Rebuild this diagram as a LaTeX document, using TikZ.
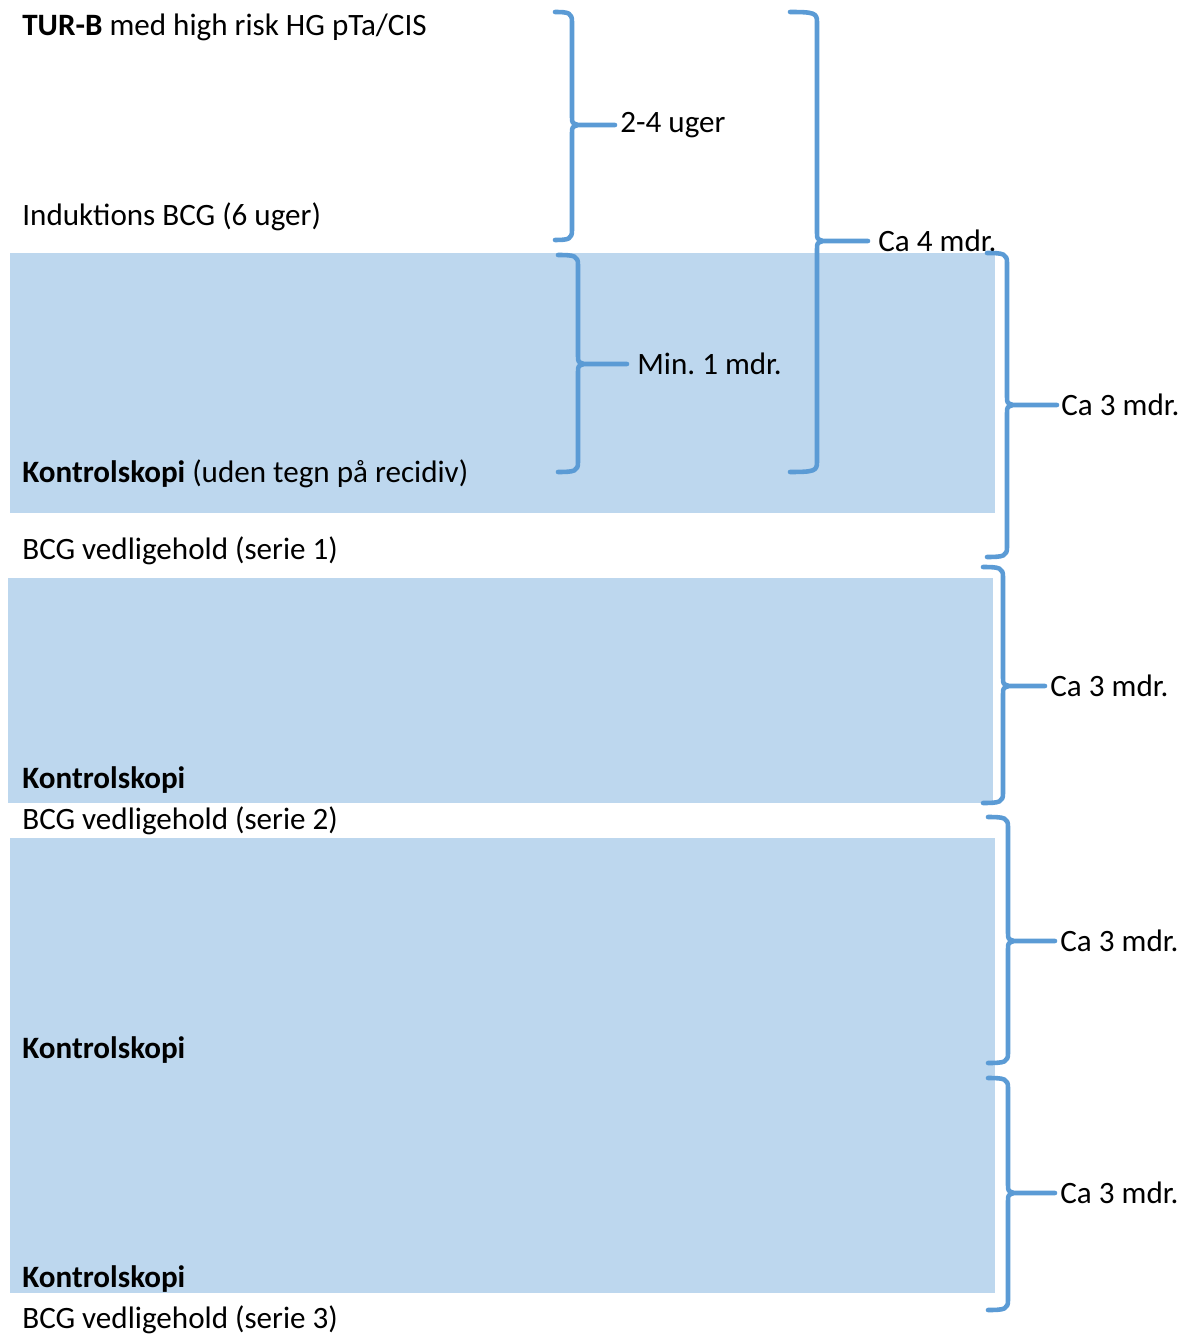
\documentclass[tikz,border=0pt]{standalone}
\usepackage{fontspec}
\setmainfont{Carlito}
\usetikzlibrary{positioning}
\definecolor{klammeblaa}{HTML}{5B9BD5}
\definecolor{feltblaa}{HTML}{BDD7EE}

\begin{document}
\frenchspacing
\begin{tikzpicture}[x = 0.02cm, y = -0.02cm, line join = round, line cap = round,
  tekst/.style = {anchor = base west, inner sep = 0pt,
    font = \fontsize{17.7}{20}\selectfont},
  etiket/.style = {anchor = west, inner sep = 0pt,
    font = \fontsize{17.7}{20}\selectfont},
  klamme/.style = {draw = klammeblaa, line width = 2.6pt}]
  \useasboundingbox (0, 0) rectangle (1193, 1337);

  % felter
  \fill[feltblaa] (10, 253) rectangle (995, 513);
  \fill[feltblaa] (8, 578) rectangle (993, 803);
  \fill[feltblaa] (10, 838) rectangle (995, 1293);

  % forloeb
  \node[tekst] (tur) at (22, 36) {\textbf{TUR-B} med high risk HG pTa/CIS};
  \node[tekst] (ind) at (22, 226) {Induktions BCG (6 uger)};
  \node[tekst] (ktrA) at (22, 482) {\textbf{Kontrolskopi} (uden tegn på recidiv)};
  \node[tekst] (bcgA) at (22, 559) {BCG vedligehold (serie 1)};
  \node[tekst] (ktrB) at (22, 788) {\textbf{Kontrolskopi}};
  \node[tekst] (bcgB) at (22, 829) {BCG vedligehold (serie 2)};
  \node[tekst] (ktrC) at (22, 1058) {\textbf{Kontrolskopi}};
  \node[tekst] (ktrD) at (22, 1287) {\textbf{Kontrolskopi}};
  \node[tekst] (bcgC) at (22, 1328) {BCG vedligehold (serie 3)};

  % klammer
  \foreach \n/\x/\t/\b/\m/\p/\h/\g/\txt in {
      a/572/12/240/125/615/17/0.1cm/{2-4 uger},
      b/578/255/472/364/627/20/0.2cm/{Min. 1 mdr.},
      c/817/12/472/241/868/27/0.2cm/{Ca 4 mdr.},
      d/1007/253/557/405/1057/20/0.08cm/{Ca 3 mdr.},
      e/1003/567/803/686/1045/20/0.1cm/{Ca 3 mdr.},
      f/1008/817/1063/941/1055/20/0.1cm/{Ca 3 mdr.},
      g/1008/1078/1310/1193/1055/20/0.1cm/{Ca 3 mdr.}} {
    \draw[klamme] (\x-\h, \t) .. controls (\x-3, \t) and (\x, \t+1) .. (\x, \t+10)
      -- (\x, \m-8) .. controls (\x, \m-2) .. (\x+6, \m) -- (\p, \m) coordinate (s\n)
      (\x+6, \m) .. controls (\x, \m+2) .. (\x, \m+8) -- (\x, \b-10)
      .. controls (\x, \b-1) and (\x-3, \b) .. (\x-\h, \b);
    \node[etiket, right = \g of s\n] (k\n) {\txt};
  }
\end{tikzpicture}
\end{document}
